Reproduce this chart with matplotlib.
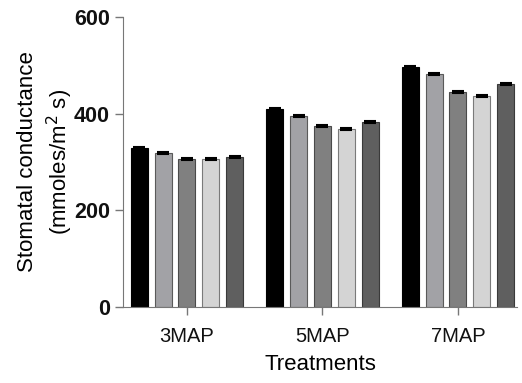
import matplotlib
matplotlib.use("Agg")
import matplotlib.pyplot as plt
import numpy as np

plt.rcParams["font.family"] = ["Liberation Sans", "DejaVu Sans"]

treatments = ["3MAP", "5MAP", "7MAP"]
series_values = [
    [329, 410, 497],
    [318, 395, 482],
    [307, 374, 445],
    [306, 369, 437],
    [310, 383, 461],
]
series_errors = [
    [2, 2, 2],
    [2, 2, 2],
    [2, 2, 2],
    [2, 2, 2],
    [2, 2, 2],
]
bar_colors = ["#000000", "#a2a2a6", "#808080", "#d4d4d4", "#5f5f5f"]
edge_colors = ["#000000", "#5a5a5a", "#4a4a4a", "#7a7a7a", "#3a3a3a"]

fig = plt.figure(figsize=(5.22, 3.83), dpi=100)
ax = fig.add_axes([0.236, 0.198, 0.754, 0.758])

x = np.arange(len(treatments))
width = 0.125
step = 0.176
for i, (vals, errs) in enumerate(zip(series_values, series_errors)):
    pos = x + (i - 2) * step
    ax.bar(pos, vals, width=width, color=bar_colors[i], edgecolor=edge_colors[i],
           linewidth=0.8, zorder=2)
    ax.errorbar(pos, vals, yerr=errs, fmt="none", ecolor="#000000",
                elinewidth=1.0, capsize=4, capthick=1.5, zorder=3)

ax.set_xlim(-0.47, 2.434)
ax.set_ylim(0, 600)
ax.set_yticks([0, 200, 400, 600])
ax.set_xticks(x)
ax.set_xticklabels(treatments, fontsize=14.5)
for lab in ax.get_yticklabels():
    lab.set_fontweight("bold")
    lab.set_fontsize(15.5)

ax.spines["top"].set_visible(False)
ax.spines["right"].set_visible(False)
ax.spines["left"].set_color("#777777")
ax.spines["bottom"].set_color("#777777")
ax.tick_params(axis="both", colors="#777777", length=6, width=1, labelcolor="#111111")
ax.tick_params(axis="x", pad=8)

ax.set_xlabel("Treatments", fontsize=16, labelpad=6)
ax.set_ylabel("Stomatal conductance\n(mmoles/m$^2$ s)", fontsize=16, labelpad=-1,
              linespacing=1.3)

fig.savefig("out.png", dpi=100)
